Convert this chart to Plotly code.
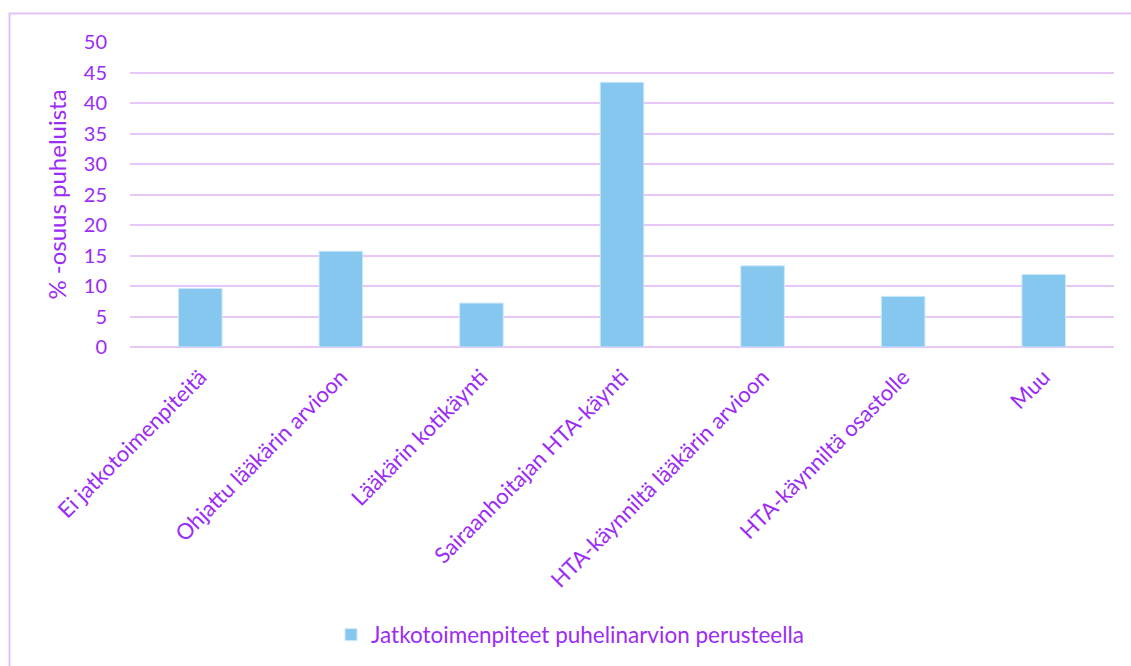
import plotly.graph_objects as go

categories = [
    "Ei jatkotoimenpiteitä",
    "Ohjattu lääkärin arvioon",
    "Lääkärin kotikäynti",
    "Sairaanhoitajan HTA-käynti",
    "HTA-käynniltä lääkärin arvioon",
    "HTA-käynniltä osastolle",
    "Muu",
]
values = [9.6, 15.7, 7.2, 43.4, 13.3, 8.3, 11.9]
series_name = "Jatkotoimenpiteet puhelinarvion perusteella"
y_ticks = [0, 5, 10, 15, 20, 25, 30, 35, 40, 45, 50]

purple = "#9B2BF5"
grid = "#E8C6F8"
font = "Lato, 'Open Sans', sans-serif"

fig = go.Figure()
fig.add_trace(go.Bar(
    x=categories, y=values, name=series_name,
    marker=dict(color="#86C7F0", line=dict(color="#CDE9F8", width=1)),
    width=0.31,
))

W, H = 1131, 666
l, r, t, b = 130, 17, 42, 318
pw, ph = W - l - r, H - t - b

def px2paper_x(px):
    return (px - l) / pw

def px2paper_y(py):
    return (H - b - py) / ph

fig.update_layout(
    width=W, height=H,
    margin=dict(l=l, r=r, t=t, b=b, pad=0),
    paper_bgcolor="white", plot_bgcolor="white",
    font=dict(family=font, color=purple, size=20),
    showlegend=True,
    legend=dict(
        orientation="h", x=px2paper_x(570), y=px2paper_y(635),
        xanchor="center", yanchor="middle",
        font=dict(size=22.5, color=purple), itemwidth=30,
    ),
    xaxis=dict(
        tickangle=-45, tickfont=dict(size=22, color=purple),
        showgrid=False, showline=False, ticks="", zeroline=False,
        ticklabelstandoff=12,
    ),
    yaxis=dict(
        range=[0, 50], tickvals=y_ticks, showgrid=True, gridcolor=grid, gridwidth=1.5,
        zeroline=True, zerolinecolor=grid, zerolinewidth=1.5,
        tickfont=dict(size=20, color=purple), ticks="", ticklabelstandoff=22,
        title=dict(text="% -osuus puheluista", font=dict(size=24, color=purple), standoff=10),
    ),
    shapes=[
        dict(type="rect", xref="paper", yref="paper",
             x0=px2paper_x(9.5), x1=px2paper_x(1180), y0=px2paper_y(700), y1=px2paper_y(13.5),
             line=dict(color="#E3C2F7", width=2), fillcolor="rgba(0,0,0,0)", layer="below"),
    ],
)

fig.write_html("out.html")
